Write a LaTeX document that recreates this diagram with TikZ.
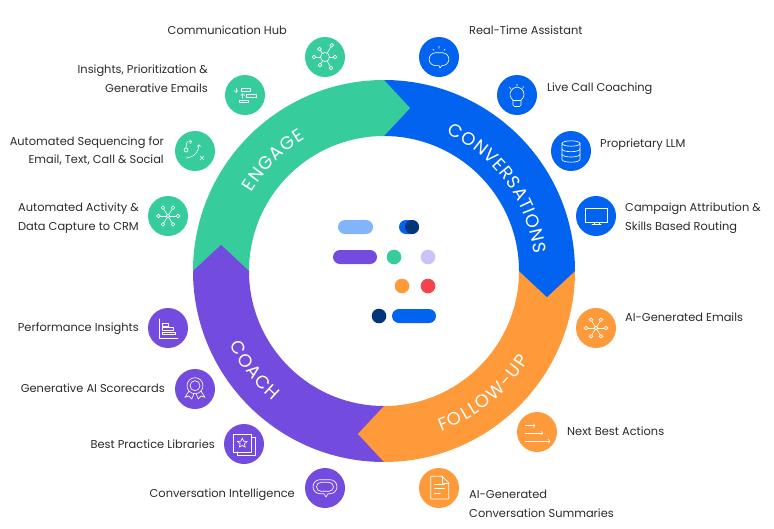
\documentclass[tikz,border=0pt]{standalone}
\usepackage{fontspec}
\setmainfont{Poppins}
\definecolor{cgreen}{HTML}{36CC9C}
\definecolor{cblue}{HTML}{0163F0}
\definecolor{cpurple}{HTML}{744BDF}
\definecolor{corange}{HTML}{FF9A3B}
\definecolor{clight}{HTML}{82B4F9}
\definecolor{cnavy}{HTML}{04357A}
\definecolor{clav}{HTML}{CBC3F8}
\definecolor{cred}{HTML}{F5424E}
\definecolor{ctext}{HTML}{2A2A2E}
\newcommand\ringfmt{\fontsize{18}{18}\selectfont}
\newsavebox\rwbox
\makeatletter
\AtBeginDocument{%
  \@for\rwl:=C,O,N,V,E,R,S,A,T,I,G,H,F,L,W,-,U,P\do{%
    \sbox\rwbox{\ringfmt\rwl}%
    \expandafter\xdef\csname rww\rwl\endcsname{\strip@pt\wd\rwbox}}}
\makeatother
\tikzset{
  disc/.style={circle,minimum size=40pt,inner sep=0pt,draw=none},
  lab/.style={text=ctext,font=\fontsize{11.4}{18.7}\selectfont,inner sep=0pt},
  labl/.style={lab,anchor=east,align=right},
  labr/.style={lab,anchor=west,align=left},
  ic/.style={draw=white,line width=.65pt,line cap=round,line join=round,fill=none},
  dot/.style={circle,inner sep=0pt,draw=none},
  pill/.style={rounded corners=7pt,draw=none},
  ringletter/.style={text=white,font=\ringfmt,inner sep=0pt,anchor=base}
}
% word along the ring: name, centre angle, radius, direction (1 clockwise with tops outward, -1 counter-clockwise with tops inward), tracking, letters
\newcommand\ringword[6]{%
  \xdef\rwtot{0}%
  \foreach \ltr in {#6} {%
    \pgfmathsetmacro\rwnew{\rwtot+\csname rww\ltr\endcsname+#5}%
    \xdef\rwtot{\rwnew}}%
  \xdef\rwpos{0}%
  \foreach \ltr [count=\i] in {#6} {%
    \edef\rww{\csname rww\ltr\endcsname}%
    \pgfmathsetmacro\rwang{#2-#4*(\rwpos+0.5*\rww+0.5*#5-0.5*\rwtot)*57.29578/#3}%
    \pgfmathsetmacro\rwrot{\rwang-#4*90}%
    \node[ringletter,rotate=\rwrot] (#1\i) at ([shift={(O)}]\rwang:#3) {\ltr};%
    \pgfmathsetmacro\rwnew{\rwpos+\rww+#5}%
    \xdef\rwpos{\rwnew}}%
}
% sector: start angle, end angle, colour
\newcommand\sector[3]{\fill[#3] ([shift={(O)}]#1:191) arc (#1:#2:191) -- ([shift={(O)}]#2:135) arc (#2:#1:135) -- cycle;}
% tip: end angle, colour (clockwise flow)
\newcommand\arrowtip[2]{\fill[#2] ([shift={(O)}]{#1+2}:190.9) -- ([shift={(O)}]#1:191) -- ([shift={(O)}]{#1-9.1}:165) -- ([shift={(O)}]#1:135) -- ([shift={(O)}]{#1+2}:135.1) -- cycle;}
% hub icon: colour, r centre, r satellite, list
\newcommand\hubicon[4]{%
  \foreach \a/\b in {#4} {\draw[ic] (0,0) -- (\a,\b);}
  \foreach \a/\b in {#4} {\draw[ic,fill=#1] (\a,\b) circle (#3);}
  \draw[ic,fill=#1] (0,0) circle (#2);}
\begin{document}
\begin{tikzpicture}[x=1pt,y=1pt]
\useasboundingbox (0,0) rectangle (774,-528);
\coordinate (O) at (384,-271);
% ring
\sector{180}{90}{cgreen}
\sector{90}{0}{cblue}
\sector{0}{-90}{corange}
\sector{-90}{-180}{cpurple}
\arrowtip{90}{cgreen}
\arrowtip{0}{cblue}
\arrowtip{-90}{corange}
\arrowtip{180}{cpurple}
% ring labels
\ringword{ra}{135}{154}{1}{1}{E,N,G,A,G,E}
\ringword{rb}{36}{151}{1}{0.7}{C,O,N,V,E,R,S,A,T,I,O,N,S}
\ringword{rc}{217.5}{171}{-1}{1.2}{C,O,A,C,H}
\ringword{rd}{-51}{170}{-1}{1.5}{F,O,L,L,O,W,-,U,P}
% centre marks
\fill[clight,pill] (338,-220) rectangle (373,-234);
\fill[cblue,pill] (399,-220) rectangle (419,-234);
\fill[cnavy] (412,-227) circle (7);
\fill[cpurple,pill] (333,-250) rectangle (377,-264);
\node[dot,fill=cgreen,minimum size=14.6pt] (m1) at (394,-257) {};
\node[dot,fill=clav,minimum size=14.6pt] (m2) at (428,-257) {};
\node[dot,fill=corange,minimum size=14.6pt] (m3) at (402,-286) {};
\node[dot,fill=cred,minimum size=14.6pt] (m4) at (428,-286) {};
\node[dot,fill=cnavy,minimum size=14.6pt] (m5) at (379,-316) {};
\fill[cblue,pill] (392,-309) rectangle (436,-323);
% discs
\node[disc,fill=cgreen] (d1) at (325,-57) {};
\node[disc,fill=cgreen] (d2) at (245,-95) {};
\node[disc,fill=cgreen] (d3) at (195,-151) {};
\node[disc,fill=cgreen] (d4) at (168,-216) {};
\node[disc,fill=cblue] (d5) at (439,-57) {};
\node[disc,fill=cblue] (d6) at (517,-95) {};
\node[disc,fill=cblue] (d7) at (571,-151) {};
\node[disc,fill=cblue] (d8) at (596,-216) {};
\node[disc,fill=corange] (d9) at (596,-328) {};
\node[disc,fill=corange] (d10) at (537,-432) {};
\node[disc,fill=corange] (d11) at (439,-488) {};
\node[disc,fill=cpurple] (d12) at (325,-488) {};
\node[disc,fill=cpurple] (d13) at (244,-444) {};
\node[disc,fill=cpurple] (d14) at (195,-389) {};
\node[disc,fill=cpurple] (d15) at (168,-328) {};
% labels
\node[labl] (t1) at (287,-30.3) {Communication Hub};
\node[labl] (t2) at (208,-78.5) {Insights, Prioritization \&\\Generative Emails};
\node[labl] (t3) at (164,-151) {Automated Sequencing for\\Email, Text, Call \& Social};
\node[labl] (t4) at (139,-218) {Automated Activity \&\\Data Capture to CRM};
\node[labl] (t5) at (139,-329) {Performance Insights};
\node[labl] (t6) at (165,-388.5) {Generative AI Scorecards};
\node[labl] (t7) at (215,-444.5) {Best Practice Libraries};
\node[labl] (t8) at (295,-495) {Conversation Intelligence};
\node[labr] (t9) at (469,-30.3) {Real-Time Assistant};
\node[labr] (t10) at (547,-88.7) {Live Call Coaching};
\node[labr] (t11) at (600,-144.7) {Proprietary LLM};
\node[labr] (t12) at (625,-218) {Campaign Attribution \&\\Skills Based Routing};
\node[labr] (t13) at (625,-317.5) {AI-Generated Emails};
\node[labr] (t14) at (567,-431.7) {Next Best Actions};
\node[labr] (t15) at (469,-504) {AI-Generated\\Conversation Summaries};
% icons
\begin{scope}[shift={(d1.center)}]
 \hubicon{cgreen}{4.5}{1.9}{6.7/11.7,-11/0,-5.5/8,10/0,-5/-8,6/-11}
\end{scope}
\begin{scope}[shift={(d2.center)}]
 \draw[ic] (-3.3,6.7) rectangle (5.7,3.3);
 \draw[ic] (1.7,1) rectangle (11,-2.3);
 \draw[ic] (-6,-5) rectangle (3.3,-7.7);
 \draw[ic,->,>=to] (-9,6.7) -- (-9,2.3);
 \draw[ic,->,>=to] (-2.3,-3.3) -- (-2.3,1.7);
\end{scope}
\begin{scope}[shift={(d3.center)}]
 \draw[ic] (-9,1) circle (2);
 \draw[ic,->,>=to] (-9,3) -- (-8,9) -- (-3,9.5);
 \draw[ic,->,>=to] (-9,-7) .. controls (0,-6) and (4,0) .. (4,6.5);
 \draw[ic] (5,-9) -- (9,-5) (5,-5) -- (9,-9);
\end{scope}
\begin{scope}[shift={(d4.center)}]
 \hubicon{cgreen}{1.9}{1.8}{-5/8.3,5/8.3,-9.5/0,10/0,-5/-8.3,5/-8.3}
\end{scope}
\begin{scope}[shift={(d9.center)}]
 \hubicon{corange}{1.9}{1.8}{-5/8.3,5/8.3,-10/0,10/0,-5/-8.3,5/-8.3}
\end{scope}
\begin{scope}[shift={(d5.center)}]
 \draw[ic] (-3.5,-8.6) -- (0,-8.6) -- (1,-11) -- (2.8,-8.6) -- (3.5,-8.6) arc (-90:90:6.4) -- (-3.5,4.2) arc (90:270:6.4);
 \draw[ic] (-6,8) -- (-5,6.5) (0,10.7) -- (0,8.7) (6,8) -- (5,6.5);
\end{scope}
\begin{scope}[shift={(d6.center)}]
 \draw[ic] (-4,-5) arc (235:-55:7) ;
 \draw[ic] (-4,-5) -- (-4,-10) arc (180:270:1.5) -- (2.5,-11.5) arc (270:360:1.5) -- (4,-5);
 \draw[ic] (-4,-5.5) -- (4,-5.5);
 \draw[ic] (-7.5,8) -- (-6.5,6.3) (0,10.7) -- (0,8.7) (6.5,8.3) -- (5.5,6.5);
\end{scope}
\begin{scope}[shift={(d7.center)}]
 \draw[ic] (0,7.5) ellipse (9 and 2.7);
 \draw[ic] (-9,7.5) -- (-9,-8.5) arc (180:360:9 and 2.7) -- (9,7.5);
 \draw[ic] (-9,2) arc (180:360:9 and 2.7);
 \draw[ic] (-9,-3.3) arc (180:360:9 and 2.7);
\end{scope}
\begin{scope}[shift={(d8.center)}]
 \draw[ic] (-10.7,7.7) rectangle (11,-6.7);
 \draw[ic] (-2,-6.7) -- (-2,-8.3) (3,-6.7) -- (3,-8.3) (-4,-8.3) -- (5,-8.3);
\end{scope}
\begin{scope}[shift={(d10.center)}]
 \draw[ic,->,>=to] (-11.7,6.3) -- (-1.7,6.3);
 \draw[ic,->,>=to] (-11.7,-1) -- (6,-1);
 \draw[ic,->,>=to] (-11.7,-9.3) -- (13.3,-9.3);
\end{scope}
\begin{scope}[shift={(d11.center)}]
 \draw[ic] (-8.3,11.7) -- (3.3,11.7) -- (9.7,5) -- (9.7,-11) -- (-8.3,-11) -- cycle;
 \draw[ic] (3.3,11.7) -- (3.3,5) -- (9.7,5);
 \draw[ic] (-4.5,3.3) -- (5.5,3.3) (-4.5,-.7) -- (5.5,-.7) (-4.5,-5) -- (1.3,-5);
\end{scope}
\begin{scope}[shift={(d12.center)}]
 \draw[ic] (-5,-5.7) -- (-1,-5.7) -- (1,-9) -- (3,-5.7) -- (5,-5.7) arc (-90:90:7) -- (-5,8.3) arc (90:270:7);
 \draw[ic] (-4,-3.3) -- (4,-3.3) arc (-90:90:4.5) -- (-4,5.7) arc (90:270:4.5);
\end{scope}
\begin{scope}[shift={(d13.center)}]
 \draw[ic] (-11,10) rectangle (7.3,-8);
 \draw[ic] (7.3,7) -- (11,7) -- (11,-11.3) -- (-7,-11.3) -- (-7,-8);
 \draw[ic] (-1.7,6) -- (-.4,2.8) -- (3.2,2.5) -- (.4,.2) -- (1.3,-3.2) -- (-1.7,-1.4) -- (-4.7,-3.2) -- (-3.8,.2) -- (-6.6,2.5) -- (-3,2.8) -- cycle;
\end{scope}
\begin{scope}[shift={(d14.center)}]
 \draw[ic] (0,3.3) circle (8);
 \draw[ic] (0,3.3) circle (5);
 \draw[ic] (-6,-2) -- (-10,-8.3) -- (-6,-7) -- (-3.3,-10) -- (-1,-4.5);
 \draw[ic] (6,-2) -- (10,-8.3) -- (6,-7) -- (3.3,-10) -- (1,-4.5);
\end{scope}
\begin{scope}[shift={(d15.center)}]
 \draw[ic] (-9,9) -- (-9,-10) -- (10,-10);
 \draw[ic] (-6,4.6) rectangle (0,2);
 \draw[ic] (-6,.3) rectangle (5,-2.3);
 \draw[ic] (-6,-4) rectangle (7.3,-6.6);
\end{scope}
\end{tikzpicture}
\end{document}
